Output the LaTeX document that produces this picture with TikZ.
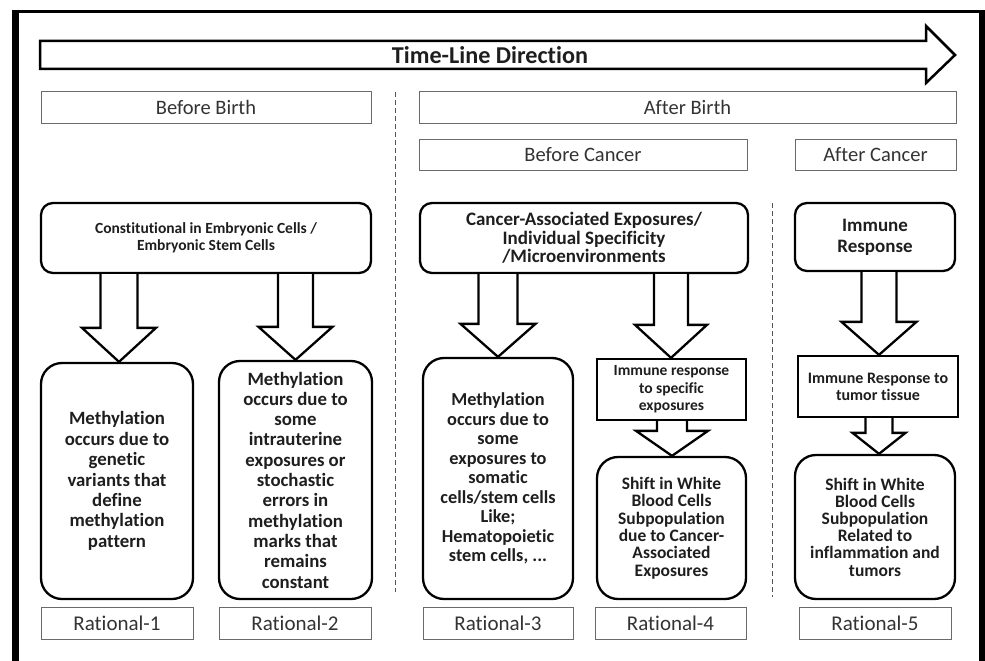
\documentclass[tikz,border=0pt]{standalone}
\usepackage{fontspec}
\setmainfont[Ligatures=NoCommon]{Carlito}
\usetikzlibrary{calc}
\definecolor{txt}{HTML}{1E1E1E}
\definecolor{htxt}{HTML}{333333}
\definecolor{hline}{HTML}{6A6A6A}
\definecolor{dline}{HTML}{555555}
\tikzset{
  hdr/.style={draw=hline, line width=1pt, inner sep=0pt, text=htxt,
    font=\fontsize{20.5}{24}\selectfont, minimum height=32pt},
  rat/.style={hdr, font=\fontsize{21}{25}\selectfont},
  rbox/.style={draw=black, line width=2.3pt, rounded corners=#1, inner sep=0pt,
    align=center, text=txt},
  rbox/.default=12pt,
  sbox/.style={draw=black, line width=2.3pt, inner sep=0pt, align=center, text=txt},
  blk/.style={draw=black, fill=white, line width=2.3pt, line join=miter},
  sep/.style={draw=dline, line width=1pt, dash pattern=on 5pt off 3pt},
}
\newcommand\blkarrow[6]{%
  \draw[blk] let \p1=(#1.south), \p2=(#2.north) in
    ({(#3-#4)*1pt},\y1) -- ({(#3-#4)*1pt},{\y2+#6pt}) -- ({(#3-#5)*1pt},{\y2+#6pt})
    -- ({#3*1pt},\y2) -- ({(#3+#5)*1pt},{\y2+#6pt}) -- ({(#3+#4)*1pt},{\y2+#6pt})
    -- ({(#3+#4)*1pt},\y1);}
\begin{document}
\begin{tikzpicture}[x=1pt,y=-1pt]
\useasboundingbox (0,0) rectangle (985,661);
% frame
\draw[line width=3pt] (12,11.5) -- (985,11.5);
\draw[line width=7pt] (15.5,10) -- (15.5,670);
\draw[line width=7pt] (982,10) -- (982,670);
% time-line arrow
\draw[line width=2.5pt, line join=miter] (40,41) -- (926,41) -- (926,26) -- (955,55)
  -- (926,83) -- (926,69) -- (40,69) -- cycle;
\node[font=\fontsize{24.2}{28}\selectfont\bfseries, text=txt] (tl) at (490,55) {Time-Line Direction};
% headers
\node[hdr, minimum width=330pt] (hbb) at (206,107) {Before Birth};
\node[hdr, minimum width=537pt] (hab) at (687.5,107) {After Birth};
\node[hdr, minimum width=328pt, minimum height=31pt] (hbc) at (583,154.5) {Before Cancer};
\node[hdr, minimum width=161pt, minimum height=31pt] (hac) at (875.5,154.5) {After Cancer};
% separators
\draw[sep] (395,92) -- (395,592);
\draw[sep] (772,203) -- (772,597);
% top boxes
\node[rbox, minimum width=330pt, minimum height=70pt,
  font=\fontsize{15.5}{17}\selectfont\bfseries] (t1) at (206,238)
  {Constitutional in Embryonic Cells /\\Embryonic Stem Cells};
\node[rbox, minimum width=328pt, minimum height=70pt,
  font=\fontsize{19}{18.6}\selectfont\bfseries] (t2) at (584,238)
  {Cancer-Associated Exposures/\\Individual Specificity\\/Microenvironments};
\node[rbox, minimum width=160pt, minimum height=68pt,
  font=\fontsize{19}{21}\selectfont\bfseries] (t3) at (875,237)
  {Immune\\Response};
% middle square boxes
\node[sbox, minimum width=149pt, minimum height=61pt,
  font=\fontsize{15.5}{17.5}\selectfont\bfseries] (s4) at (671.5,389.5)
  {Immune response\\to specific\\exposures};
\node[sbox, minimum width=160pt, minimum height=61pt,
  font=\fontsize{16}{17}\selectfont\bfseries] (s5) at (878,386.5)
  {Immune Response to\\tumor tissue};
% bottom boxes
\node[rbox=21pt, minimum width=152pt, minimum height=236pt,
  font=\fontsize{18.8}{20.4}\selectfont\bfseries] (b1) at (117,481)
  {Methylation\\occurs due to\\genetic\\variants that\\define\\methylation\\pattern};
\node[rbox=21pt, minimum width=153pt, minimum height=238pt,
  font=\fontsize{18.8}{20.3}\selectfont\bfseries] (b2) at (295.5,480)
  {Methylation\\occurs due to\\some\\intrauterine\\exposures or\\stochastic\\errors in\\methylation\\marks that\\remains\\constant};
\node[rbox=21pt, minimum width=150pt, minimum height=241pt,
  font=\fontsize{18.3}{19.5}\selectfont\bfseries] (b3) at (498,478.5)
  {Methylation\\occurs due to\\some\\exposures to\\somatic\\cells/stem cells\\Like;\\Hematopoietic\\stem cells, ...};
\node[rbox=21pt, minimum width=149pt, minimum height=142pt,
  font=\fontsize{17.5}{17.3}\selectfont\bfseries] (b4) at (671.5,528)
  {Shift in White\\Blood Cells\\Subpopulation\\due to Cancer-\\Associated\\Exposures};
\node[rbox=21pt, minimum width=160pt, minimum height=144pt,
  font=\fontsize{17.5}{17.2}\selectfont\bfseries] (b5) at (875,527)
  {Shift in White\\Blood Cells\\Subpopulation\\Related to\\inflammation and\\tumors};
% rationals
\node[rat, minimum width=152pt] (r1) at (117,623) {Rational-1};
\node[rat, minimum width=152pt] (r2) at (295,623) {Rational-2};
\node[rat, minimum width=150pt] (r3) at (498,623) {Rational-3};
\node[rat, minimum width=151pt] (r4) at (670.5,623) {Rational-4};
\node[rat, minimum width=152pt] (r5) at (875,623) {Rational-5};
% block arrows
\blkarrow{t1}{b1}{119}{18.5}{37}{34}
\blkarrow{t1}{b2}{295.5}{17.5}{37}{33}
\blkarrow{t2}{b3}{498}{19.5}{37.5}{33}
\blkarrow{t2}{s4}{671}{17}{36}{33}
\blkarrow{t3}{s5}{879}{17.5}{37.5}{33}
\blkarrow{s4}{b4}{672}{15}{36}{25}
\blkarrow{s5}{b5}{879}{13.5}{26.5}{21}
\end{tikzpicture}
\end{document}
